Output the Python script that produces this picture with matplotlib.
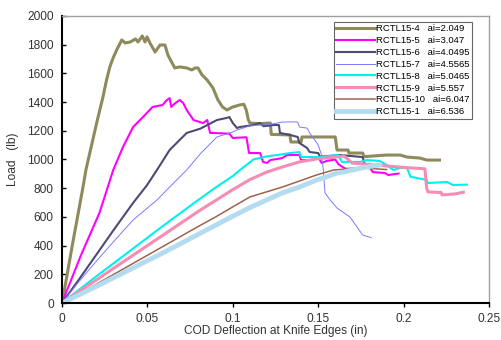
import numpy as np
import matplotlib
matplotlib.use('Agg')
import matplotlib.pyplot as plt
from matplotlib.ticker import MultipleLocator, FuncFormatter

plt.rcParams['font.family'] = ['Liberation Sans', 'DejaVu Sans']

# RCTL15-4  ai=2.049
x4 = [0, 0.002, 0.006, 0.0123, 0.014, 0.018, 0.021, 0.024, 0.026, 0.028, 0.030, 0.032, 0.035,
      0.037, 0.040, 0.043, 0.0445, 0.047, 0.0486, 0.0498, 0.0515, 0.0545, 0.0574, 0.0603, 0.062,
      0.066, 0.069, 0.073, 0.076, 0.078, 0.0796, 0.082, 0.085, 0.0884, 0.0913, 0.094, 0.0966,
      0.100, 0.104, 0.1065, 0.108, 0.109, 0.110, 0.116, 0.122, 0.1225, 0.1335, 0.134, 0.140,
      0.1405, 0.160, 0.161, 0.1675, 0.168, 0.176, 0.177, 0.190, 0.198, 0.202, 0.2096, 0.2137, 0.221]
y4 = [0, 130, 400, 808, 927, 1136, 1290, 1436, 1550, 1645, 1710, 1763, 1833,
      1812, 1819, 1840, 1819, 1861, 1819, 1854, 1812, 1749, 1798, 1798, 1728,
      1638, 1645, 1638, 1624, 1638, 1638, 1589, 1554, 1498, 1415, 1366, 1345,
      1366, 1380, 1385, 1340, 1280, 1254, 1250, 1254, 1175, 1171, 1122, 1122,
      1157, 1157, 1066, 1066, 1045, 1045, 1020, 1031, 1031, 1017, 1010, 996, 996]

# RCTL15-5  ai=3.047
x5 = [0, 0.011, 0.022, 0.030, 0.0357, 0.0416, 0.0474, 0.053, 0.059, 0.061, 0.063, 0.064, 0.066,
      0.069, 0.071, 0.073, 0.077, 0.0826, 0.085, 0.0867, 0.088, 0.098, 0.100, 0.108, 0.1095,
      0.116, 0.1177, 0.120, 0.122, 0.129, 0.1317, 0.139, 0.140, 0.147, 0.150, 0.152, 0.155,
      0.160, 0.162, 0.166, 0.176, 0.180, 0.182, 0.189, 0.191, 0.197]
y5 = [0, 330, 630, 927, 1087, 1226, 1296, 1366, 1380, 1410, 1428, 1366, 1390,
      1415, 1393, 1345, 1275, 1254, 1275, 1185, 1185, 1180, 1150, 1155, 1045,
      1045, 983, 976, 996, 1010, 1031, 1031, 996, 996, 1017, 976, 990,
      1000, 965, 935, 940, 948, 912, 906, 892, 902]

# RCTL15-6  ai=4.0495
x6 = [0, 0.010, 0.020, 0.030, 0.0416, 0.0497, 0.0556, 0.063, 0.073, 0.081, 0.0907, 0.0966, 0.098,
      0.100, 0.1025, 0.104, 0.112, 0.116, 0.118, 0.1235, 0.127, 0.1276, 0.1335, 0.138, 0.139,
      0.1435, 0.145, 0.150, 0.151, 0.163, 0.176, 0.177]
y6 = [0, 165, 335, 505, 697, 820, 927, 1066, 1185, 1215, 1275, 1290, 1296,
      1254, 1219, 1226, 1240, 1254, 1232, 1240, 1240, 1185, 1171, 1157, 1115,
      1080, 1052, 1045, 1020, 1031, 1017, 976]

# RCTL15-7  ai=4.5565
x7 = [0, 0.010, 0.020, 0.030, 0.0416, 0.0556, 0.063, 0.073, 0.081, 0.0907, 0.100, 0.1025, 0.110,
      0.116, 0.122, 0.129, 0.134, 0.138, 0.139, 0.1435, 0.145, 0.148, 0.150, 0.152, 0.153,
      0.154, 0.157, 0.161, 0.1686, 0.1727, 0.176, 0.181]
y7 = [0, 150, 290, 425, 578, 718, 808, 927, 1040, 1157, 1192, 1205, 1235,
      1240, 1245, 1261, 1262, 1261, 1226, 1219, 1185, 1136, 1101, 1031, 927,
      767, 718, 662, 599, 530, 474, 455]

# RCTL15-8  ai=5.0465
x8 = [0, 0.020, 0.040, 0.060, 0.080, 0.090, 0.100, 0.104, 0.110, 0.112, 0.120, 0.126, 0.1335,
      0.139, 0.140, 0.151, 0.1616, 0.164, 0.1745, 0.1785, 0.186, 0.190, 0.194, 0.198, 0.202,
      0.204, 0.2137, 0.214, 0.2254, 0.229, 0.237]
y8 = [0, 185, 365, 545, 720, 805, 885, 925, 980, 1000, 1022, 1031, 1045,
      1052, 1017, 1017, 1031, 983, 983, 996, 990, 962, 927, 941, 941,
      880, 857, 836, 843, 822, 825]

# RCTL15-9  ai=5.557
x9 = [0, 0.020, 0.040, 0.060, 0.080, 0.090, 0.100, 0.110, 0.120, 0.129, 0.139, 0.149, 0.159,
      0.165, 0.170, 0.180, 0.190, 0.200, 0.2125, 0.2135, 0.2143, 0.222, 0.2225, 0.230, 0.235]
y9 = [0, 160, 320, 480, 640, 715, 790, 860, 913, 948, 983, 1005, 1015,
      1025, 975, 965, 955, 945, 935, 800, 774, 770, 753, 760, 772]

# RCTL15-10  ai=6.047
x10 = [0, 0.020, 0.040, 0.060, 0.080, 0.090, 0.100, 0.110, 0.129, 0.149, 0.159, 0.176, 0.190]
y10 = [0, 130, 265, 400, 535, 600, 670, 739, 808, 892, 927, 941, 930]

# RCTL15-1  ai=6.536
x1 = [0, 0.020, 0.040, 0.060, 0.080, 0.100, 0.110, 0.129, 0.139, 0.149, 0.153, 0.161, 0.165,
      0.170, 0.1785, 0.186]
y1 = [0, 115, 235, 355, 480, 605, 665, 767, 808, 857, 871, 906, 913,
      927, 948, 962]

series = [
    (x4, y4, 'RCTL15-4   ai=2.049', '#8f8a5c', 2.2),
    (x5, y5, 'RCTL15-5   ai=3.047', '#ff00ff', 1.5),
    (x6, y6, 'RCTL15-6   ai=4.0495', '#4b4b73', 1.5),
    (x7, y7, 'RCTL15-7   ai=4.5565', '#7a7aff', 0.7),
    (x8, y8, 'RCTL15-8   ai=5.0465', '#00f0f0', 1.5),
    (x9, y9, 'RCTL15-9   ai=5.557', '#f58cb4', 2.2),
    (x10, y10, 'RCTL15-10   ai=6.047', '#a0624e', 1.1),
    (x1, y1, 'RCTL15-1   ai=6.536', '#b4dcf0', 3.5),
]

fig = plt.figure(figsize=(5.02, 3.40), dpi=100)
ax = fig.add_axes([62 / 502, 37 / 340, 427 / 502, 287 / 340])

for x, y, lab, c, lw in series:
    ax.plot(x, y, color=c, lw=lw, label=lab)

ax.set_xlim(0, 0.25)
ax.set_ylim(0, 2000)
ax.xaxis.set_major_locator(MultipleLocator(0.05))
ax.yaxis.set_major_locator(MultipleLocator(200))
ax.xaxis.set_major_formatter(FuncFormatter(lambda v, p: '%g' % round(v, 3)))

for s in ['left', 'bottom']:
    ax.spines[s].set_color('black')
    ax.spines[s].set_linewidth(1.5)
for s in ['top', 'right']:
    ax.spines[s].set_color('#a0a0a0')
    ax.spines[s].set_linewidth(1.0)

ax.tick_params(axis='y', direction='in', length=3, width=1, labelsize=8.6, labelcolor='#333333', pad=6)
ax.tick_params(axis='x', direction='out', length=3, width=1, labelsize=8.6, labelcolor='#333333', pad=4)

ax.set_xlabel('COD Deflection at Knife Edges (in)', fontsize=8.6, color='#333333', labelpad=0.5)
ax.set_ylabel('Load   (lb)', fontsize=8.6, color='#333333', labelpad=6)

leg = ax.legend(loc='upper right', bbox_to_anchor=(0.960, 0.979), borderaxespad=0,
                fontsize=6.8, handlelength=4.1, handletextpad=0.1, borderpad=0.25,
                labelspacing=0.3, fancybox=False, framealpha=1)
leg.get_frame().set_edgecolor('#666666')
leg.get_frame().set_linewidth(0.8)

fig.savefig('out.png', dpi=100)
